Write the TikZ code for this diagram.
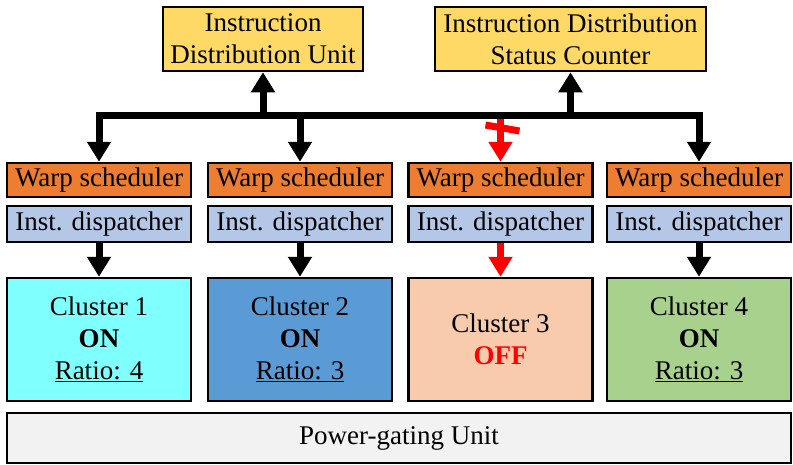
\documentclass[tikz,border=0pt]{standalone}
\usepackage{fontspec}
\setmainfont{Liberation Serif}
\usetikzlibrary{arrows.meta,calc}
\definecolor{unitfill}{HTML}{FFD966}
\definecolor{wsfill}{HTML}{ED7D31}
\definecolor{idfill}{HTML}{B4C7E7}
\definecolor{cla}{HTML}{80FFFF}
\definecolor{clb}{HTML}{5B9BD5}
\definecolor{clc}{HTML}{F8CBAD}
\definecolor{cld}{HTML}{A9D18E}
\definecolor{pgfill}{HTML}{F2F2F2}

\begin{document}
\begin{tikzpicture}[x=1pt, y=-1pt,
  every node/.style={draw, line width=2.5pt, inner sep=0pt, align=center, font=\fontsize{27}{32}\selectfont},
  wire/.style={line width=7pt, -{Triangle[width=23pt,length=20pt]}}]
\useasboundingbox (0,0) rectangle (793,464);
\node[fill=unitfill, minimum width=200pt, minimum height=64pt] (idu) at (263,39) {Instruction\\Distribution Unit};
\node[fill=unitfill, minimum width=271pt, minimum height=64pt] (idsc) at (570.5,39) {Instruction Distribution\\Status Counter};
\foreach \i/\x/\col/\txt in {1/99/cla/{Cluster 1\\\textbf{ON}\\\underline{Ratio: 4}},
                            2/300/clb/{Cluster 2\\\textbf{ON}\\\underline{Ratio: 3}},
                            3/500.5/clc/{Cluster 3\\\textcolor{red}{\textbf{OFF}}},
                            4/699/cld/{Cluster 4\\\textbf{ON}\\\underline{Ratio: 3}}} {
  \node[fill=wsfill, minimum width=184pt, minimum height=34pt] (ws\i) at (\x,180) {Warp scheduler};
  \node[fill=idfill, minimum width=184pt, minimum height=36pt] (id\i) at (\x,224) {Inst. dispatcher};
  \node[fill=\col, minimum width=184pt, minimum height=123pt] (cl\i) at (\x,339.5) {\txt};
}
\node[fill=pgfill, minimum width=784pt, minimum height=50pt] (pgu) at (399,438) {Power-gating Unit};
\coordinate (bus) at (0,115);
% bus to the schedulers and up to the two units
\foreach \i in {1,2,4} {
  \draw[wire] (ws\i.north |- bus) -- (ws\i.north);
  \draw[wire] (id\i) -- (cl\i);
}
\draw[wire, red] (ws3.north |- bus) -- (ws3.north);
\draw[wire, red] (id3) -- (cl3);
\draw[red, line width=7pt] ($(ws3.north |- bus)+(-15,10)$) -- ++(34,6);
\draw[wire] (idu.south |- bus) -- (idu.south);
\draw[wire] (idsc.south |- bus) -- (idsc.south);
\draw[line width=7pt, line cap=rect] (ws1.north |- bus) -- (ws4.north |- bus);
\end{tikzpicture}
\end{document}
